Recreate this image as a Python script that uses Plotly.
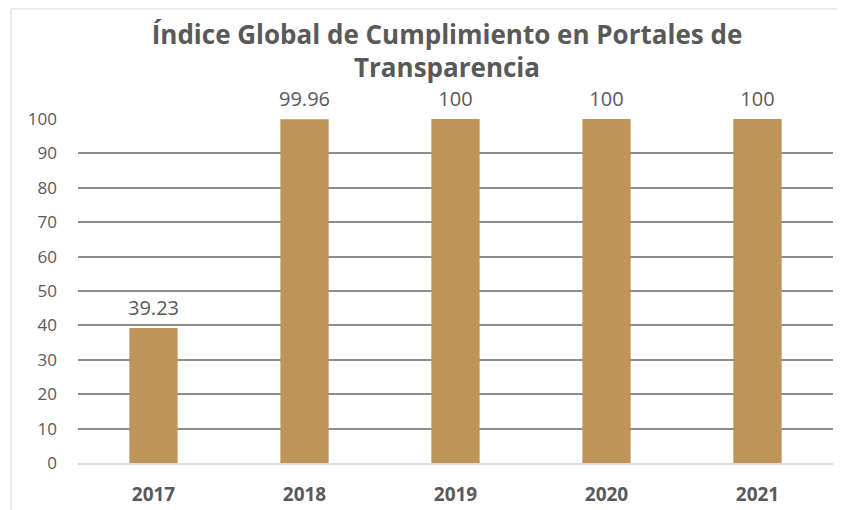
import plotly.graph_objects as go

years = ['2017', '2018', '2019', '2020', '2021']
values = [39.23, 99.96, 100, 100, 100]
labels = ['39.23', '99.96', '100', '100', '100']
y_ticks = list(range(0, 101, 10))

bar_color = '#BF9459'
text_color = '#595959'

fig = go.Figure()
fig.add_trace(go.Bar(
    x=years,
    y=values,
    marker=dict(color=bar_color, line=dict(width=0)),
    showlegend=False,
))

# value labels above the bars (invisible markers push the text up)
fig.add_trace(go.Scatter(
    x=years,
    y=values,
    mode='markers+text',
    text=labels,
    textposition='top center',
    marker=dict(size=12, opacity=0),
    textfont=dict(size=20, color=text_color, family='Open Sans'),
    cliponaxis=False,
    hoverinfo='skip',
    showlegend=False,
))

fig.update_xaxes(
    type='category',
    tickvals=years,
    ticktext=['<b>%s</b>' % y for y in years],
    tickfont=dict(size=19, color=text_color, family='Open Sans'),
    ticklabelstandoff=13,
    showline=True, linecolor='#D9D9D9', linewidth=1.5,
    showgrid=False,
    automargin=False,
)
fig.update_yaxes(
    range=[0, 100],
    tickvals=y_ticks,
    tickfont=dict(size=17, color=text_color, family='Open Sans'),
    ticklabelstandoff=20,
    showgrid=True, gridcolor='#8C8C8C', gridwidth=1.5,
    zeroline=False,
    automargin=False,
)

# light frame around the chart
fig.add_shape(type='line', xref='paper', yref='paper',
              x0=-0.0887, x1=-0.0887, y0=-0.2, y1=1.32,
              line=dict(color='#E3E3E3', width=1.5), layer='below')
fig.add_shape(type='line', xref='paper', yref='paper',
              x0=-0.0887, x1=1.1, y0=1.32, y1=1.32,
              line=dict(color='#E3E3E3', width=1.5), layer='below')

fig.update_layout(
    width=837, height=502,
    margin=dict(l=70, r=12, t=111, b=47),
    bargap=0.68,
    plot_bgcolor='white', paper_bgcolor='white',
    title=dict(
        text='<b>Índice Global de Cumplimiento en Portales de<br>Transparencia</b>',
        x=0.5245, xanchor='center', y=0.929, yanchor='middle',
        font=dict(size=26, color=text_color, family='Open Sans'),
        automargin=False,
    ),
)

fig.write_html('out.html')
